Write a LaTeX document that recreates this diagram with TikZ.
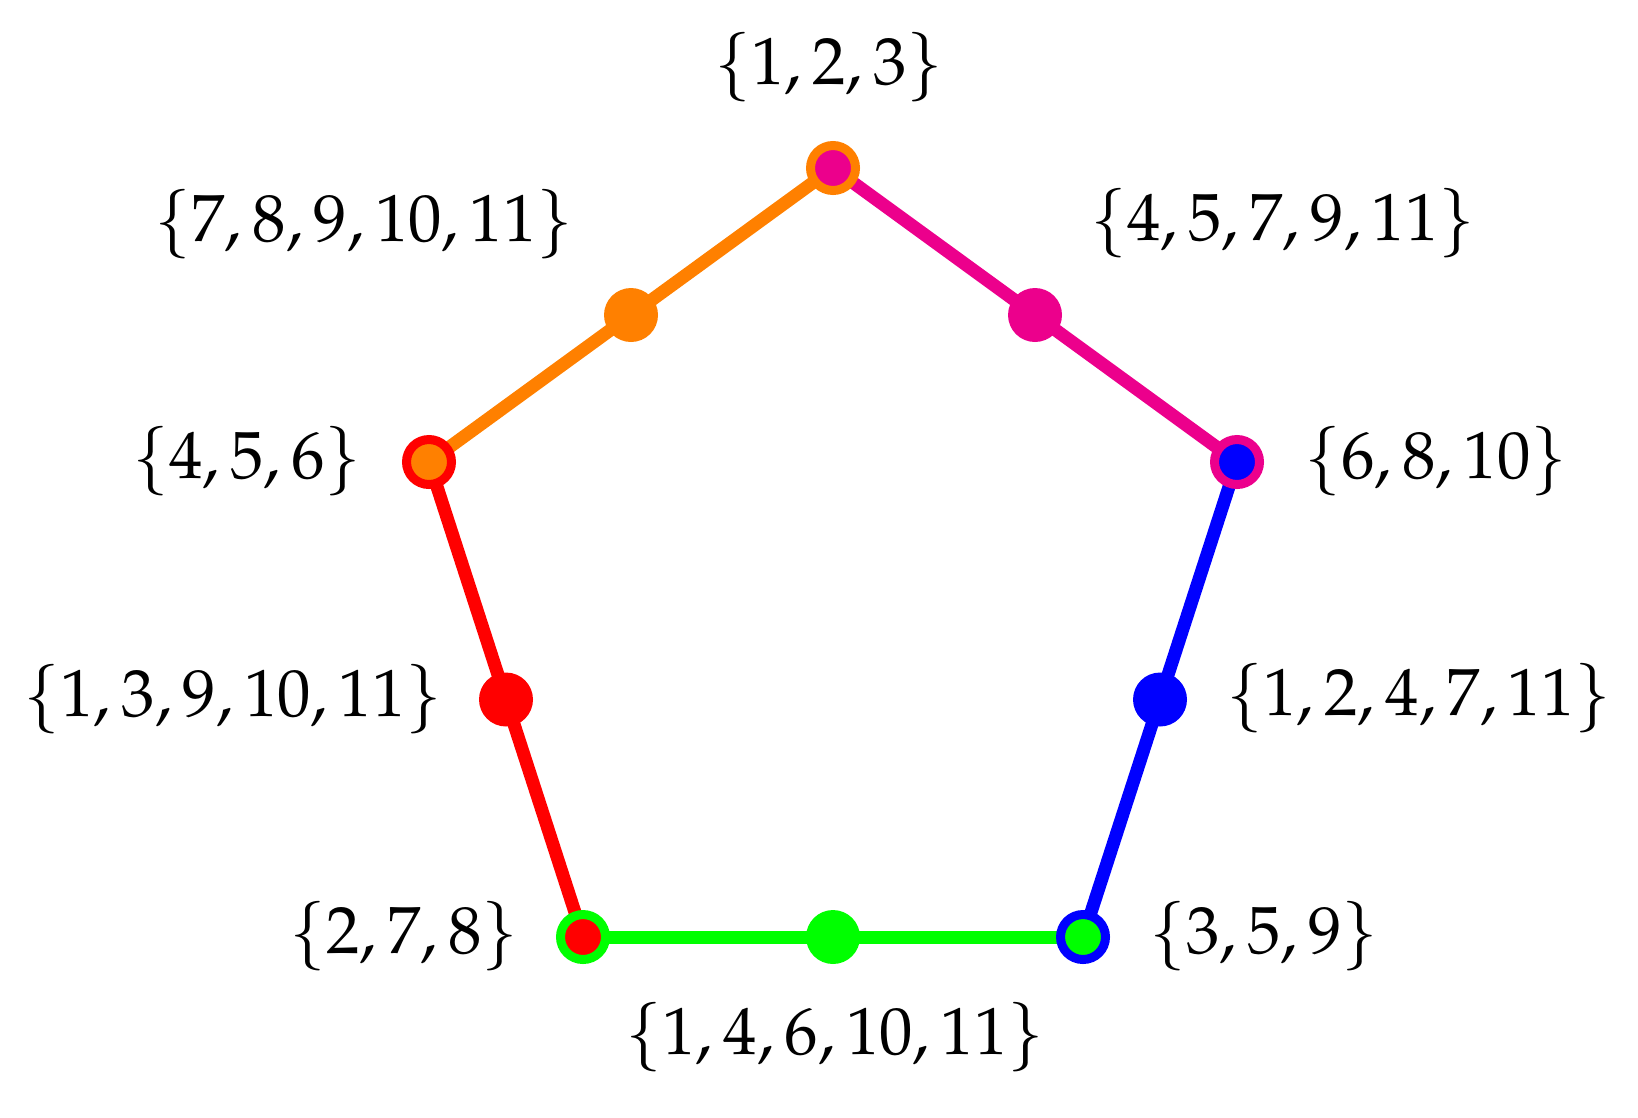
\documentclass[tikz,border=0pt]{standalone}
\usepackage{mathpazo}
\usetikzlibrary{calc}
\definecolor{cOrange}{RGB}{255,128,0}
\definecolor{cMag}{RGB}{236,0,140}
\definecolor{cRed}{RGB}{255,0,0}
\definecolor{cGreen}{RGB}{0,255,0}
\definecolor{cBlue}{RGB}{0,0,255}
\tikzset{
  edge/.style={line width=0.26cm},
  vert/.style={circle, inner sep=0pt, minimum size=0.9cm, line width=0.18cm},
  mid/.style={circle, inner sep=0pt, minimum size=1.08cm},
  lab/.style={inner sep=0pt, anchor=center, font=\fontsize{38}{44}\selectfont}
}
\begin{document}
\begin{tikzpicture}[x=0.02cm,y=-0.02cm]
\useasboundingbox (0,0) rectangle (1638,1117);
% vertex positions
\coordinate (cA) at (833,168);
\coordinate (cB) at (429,462);
\coordinate (cC) at (583,937);
\coordinate (cD) at (1083,937);
\coordinate (cE) at (1237,462);
% edges
\draw[edge, cOrange] (cA) -- (cB);
\draw[edge, cRed] (cB) -- (cC);
\draw[edge, cGreen] (cC) -- (cD);
\draw[edge, cBlue] (cD) -- (cE);
\draw[edge, cMag] (cE) -- (cA);
% midpoints
\node[mid, fill=cOrange] (mAB) at ($(cA)!0.5!(cB)$) {};
\node[mid, fill=cRed] (mBC) at ($(cB)!0.5!(cC)$) {};
\node[mid, fill=cGreen] (mCD) at ($(cC)!0.5!(cD)$) {};
\node[mid, fill=cBlue] (mDE) at ($(cD)!0.5!(cE)$) {};
\node[mid, fill=cMag] (mEA) at ($(cE)!0.5!(cA)$) {};
% vertices
\node[vert, draw=cOrange, fill=cMag] (A) at (cA) {};
\node[vert, draw=cRed, fill=cOrange] (B) at (cB) {};
\node[vert, draw=cGreen, fill=cRed] (C) at (cC) {};
\node[vert, draw=cBlue, fill=cGreen] (D) at (cD) {};
\node[vert, draw=cMag, fill=cBlue] (E) at (cE) {};
% labels
\node[lab] (lA) at (829,67) {$\{1,2,3\}$};
\node[lab] (lAB) at (364,224) {$\{7,8,9,10,11\}$};
\node[lab] (lEA) at (1283,223) {$\{4,5,7,9,11\}$};
\node[lab] (lB) at (247,461) {$\{4,5,6\}$};
\node[lab] (lE) at (1436,461) {$\{6,8,10\}$};
\node[lab] (lBC) at (233,699) {$\{1,3,9,10,11\}$};
\node[lab] (lDE) at (1419,698) {$\{1,2,4,7,11\}$};
\node[lab] (lC) at (404,936) {$\{2,7,8\}$};
\node[lab] (lD) at (1264,936) {$\{3,5,9\}$};
\node[lab] (lCD) at (835,1037) {$\{1,4,6,10,11\}$};
\end{tikzpicture}
\end{document}
